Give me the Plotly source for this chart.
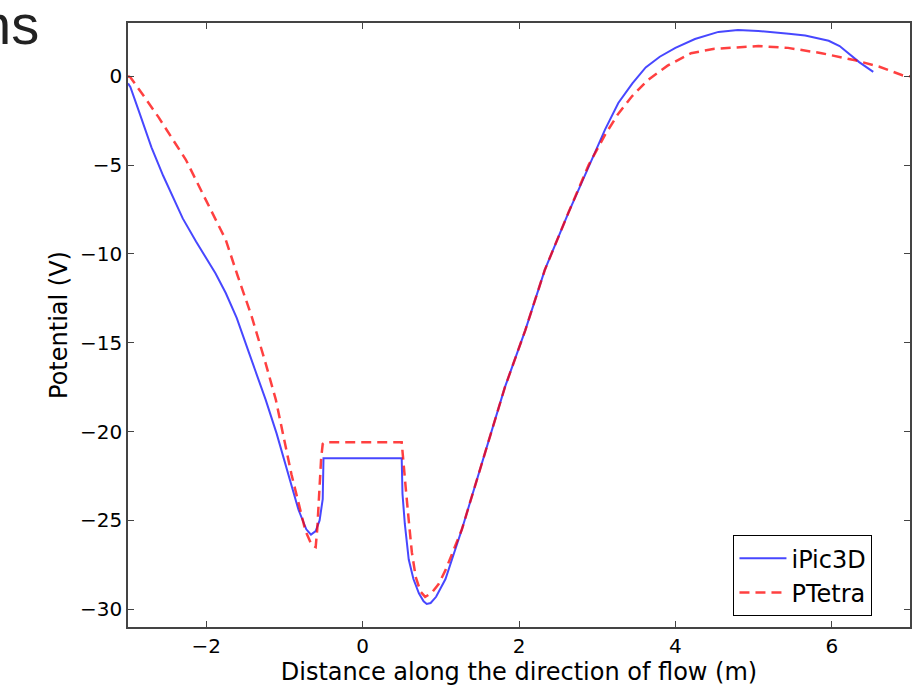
import plotly.graph_objects as go

# iPic3D (solid blue)
ipic_x = [-3.0, -2.97, -2.85, -2.70, -2.55, -2.44, -2.30, -2.13, -2.0, -1.88, -1.75, -1.61,
          -1.45, -1.24, -1.10, -0.98, -0.82, -0.72, -0.66, -0.60, -0.55, -0.51, -0.50,
          0.49, 0.50, 0.51, 0.54, 0.59, 0.65, 0.72, 0.78, 0.82, 0.87, 0.94, 1.06, 1.27, 1.52, 1.82,
          2.08, 2.33, 2.63, 2.89, 3.10, 3.27, 3.45, 3.62, 3.80, 4.00, 4.25, 4.55, 4.80,
          5.06, 5.23, 5.45, 5.66, 5.82, 5.96, 6.10, 6.21, 6.35, 6.53]
ipic_y = [-0.4, -0.6, -2.1, -4.0, -5.6, -6.7, -8.0, -9.3, -10.2, -11.1, -12.2, -13.6,
          -15.6, -18.2, -20.1, -22.0, -24.4, -25.5, -25.8, -25.6, -25.0, -23.8, -21.5,
          -21.5, -21.5, -23.5, -25.2, -27.2, -28.3, -29.1, -29.55, -29.7, -29.65, -29.3, -28.3, -25.5, -21.8, -17.5,
          -14.3, -10.9, -7.7, -5.1, -3.0, -1.5, -0.4, 0.5, 1.1, 1.6, 2.1, 2.5, 2.6,
          2.55, 2.5, 2.4, 2.3, 2.15, 2.0, 1.7, 1.3, 0.8, 0.25]

# PTetra (dashed red)
ptetra_x = [-3.0, -2.97, -2.80, -2.61, -2.45, -2.26, -2.0, -1.75, -1.60, -1.42, -1.25, -1.11,
            -0.91, -0.80, -0.73, -0.65, -0.60, -0.58, -0.56, -0.53, -0.51, -0.48,
            0.50, 0.52, 0.55, 0.59, 0.63, 0.68, 0.74, 0.80, 0.88, 0.97, 1.06, 1.27, 1.52,
            1.82, 2.08, 2.33, 2.63, 2.89, 3.10, 3.27, 3.45, 3.65, 3.90, 4.20, 4.50, 4.80,
            5.06, 5.44, 5.87, 6.30, 6.60, 6.91, 7.0]
ptetra_y = [0.0, -0.05, -1.1, -2.3, -3.4, -4.7, -7.0, -9.2, -11.2, -13.5, -16.0, -18.2,
            -22.4, -24.4, -25.6, -26.4, -26.5, -25.5, -23.8, -21.5, -20.7, -20.6,
            -20.6, -21.8, -23.1, -25.0, -26.8, -28.2, -29.0, -29.3, -29.1, -28.6, -27.8, -25.5, -21.8,
            -17.5, -14.3, -10.9, -7.7, -5.0, -3.3, -2.1, -1.1, -0.2, 0.6, 1.3, 1.55, 1.65,
            1.7, 1.6, 1.3, 0.9, 0.55, 0.05, 0.0]

x_ticks = [-2, 0, 2, 4, 6]
y_ticks = [0, -5, -10, -15, -20, -25, -30]

FONT = "DejaVu Sans"

fig = go.Figure()
fig.add_trace(go.Scatter(x=ipic_x, y=ipic_y, mode="lines", name="iPic3D",
                         line=dict(color="rgba(0,0,255,0.72)", width=2)))
fig.add_trace(go.Scatter(x=ptetra_x, y=ptetra_y, mode="lines", name="PTetra",
                         line=dict(color="rgba(255,0,0,0.75)", width=2.5, dash="10px,6px")))

axis_common = dict(showline=True, mirror="allticks", linecolor="#444", linewidth=1.5,
                   ticks="inside", ticklen=6, tickwidth=1, tickcolor="#444",
                   showgrid=False, zeroline=False,
                   tickfont=dict(family=FONT, size=20, color="black"))

fig.update_xaxes(range=[-3, 7], tickvals=x_ticks,
                 title=dict(text="Distance along the direction of flow (m)",
                            font=dict(family=FONT, size=24, color="black"), standoff=0),
                 **axis_common)
fig.update_yaxes(range=[-31, 3], tickvals=y_ticks,
                 title=dict(text="Potential (V)",
                            font=dict(family=FONT, size=24, color="black"), standoff=6),
                 **axis_common)

fig.update_layout(
    width=921, height=687,
    margin=dict(l=128, r=11, t=23, b=60, autoexpand=False),
    paper_bgcolor="white", plot_bgcolor="white",
    font=dict(family=FONT, color="black"),
    legend=dict(x=0.952, y=0.018, xanchor="right", yanchor="bottom",
                bordercolor="black", borderwidth=1, bgcolor="white",
                font=dict(family=FONT, size=24, color="black"),
                itemwidth=47, tracegroupgap=0),
    annotations=[dict(text="ns", xref="paper", yref="paper", x=-0.111, y=0.998,
                      xanchor="right", yanchor="middle", showarrow=False,
                      font=dict(family="Liberation Sans", size=56, color="#222"))],
)

fig.write_html("out.html", config={"displayModeBar": False},
               post_script="document.body.style.margin='0px';document.body.style.overflow='hidden';")
